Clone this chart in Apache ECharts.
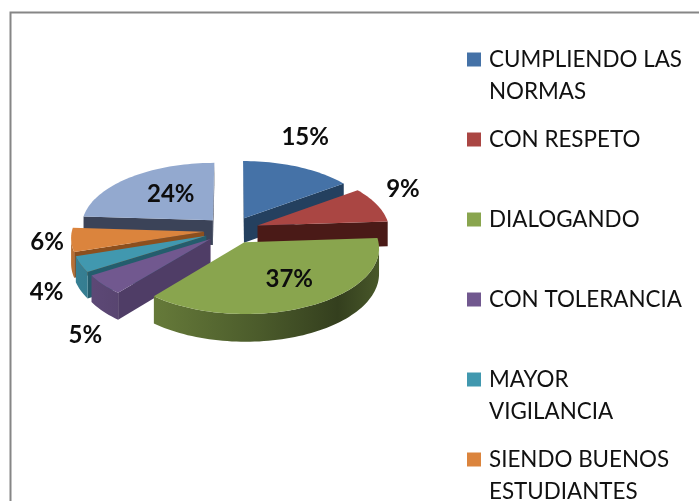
<!DOCTYPE html>
<html>
<head>
<meta charset="utf-8">
<style>
html, body { margin: 0; padding: 0; background: #fff; }
#box { width: 699px; height: 501px; }
</style>
</head>
<body>
<div id="box"></div>
<script src="https://cdn.jsdelivr.net/npm/echarts@6/dist/echarts.min.js"></script>
<script>
// legend text; the 7th entry is cut off in the picture
const categories = ['CUMPLIENDO LAS\nNORMAS', 'CON RESPETO', 'DIALOGANDO', 'CON TOLERANCIA', 'MAYOR\nVIGILANCIA', 'SIENDO BUENOS\nESTUDIANTES'];
const percents = [15, 9, 37, 5, 4, 6, 24];
const colors = ['#4572a7', '#aa4643', '#89a54e', '#71588f', '#4198af', '#db843d', '#93a9cf'];
const sideColors = ['#24405f', '#4a1a17', '#76923c', '#4f3d66', '#245d6d', '#8c4f1e', '#3b4358'];
// label offset from the middle of each slice's rim
const labelOffsets = [[7, -30], [26, -15], [-22, -26.5], [-18, 51], [-34, 28], [-24, 2], [41, 17]];

const FONT = 'Lato, "Open Sans", sans-serif';
// tilted pie projection
const CX = 231.6, CY = 230, RX = 132, RY = 63.8, PERSP = 0.083, EXPLODE = 0.21, DEPTH = 25;

function project(px, py, down) {
  const s = 1 / (1 + PERSP * py);
  return [CX + RX * px * s, CY - RY * py * s + (down ? DEPTH * s : 0)];
}

function shade(hex, f) {
  const n = parseInt(hex.slice(1), 16);
  const c = [n >> 16, (n >> 8) & 255, n & 255].map(v => Math.round(v * f));
  return 'rgb(' + c.join(',') + ')';
}

function wall(topPts, botPts, fill) {
  return { type: 'polygon', shape: { points: topPts.concat(botPts.slice().reverse()) }, style: { fill: fill } };
}

function renderSlice(index) {
  return function (params, api) {
    const value = api.value(0);
    const start = api.value(1) / 100 * Math.PI * 2;
    const end = start + value / 100 * Math.PI * 2;
    const mid = (start + end) / 2;
    const ox = EXPLODE * Math.sin(mid), oy = EXPLODE * Math.cos(mid);
    const steps = Math.max(8, Math.round(value * 2));
    const arc = [], arcLow = [];
    for (let i = 0; i <= steps; i++) {
      const t = start + (end - start) * i / steps;
      arc.push(project(ox + Math.sin(t), oy + Math.cos(t)));
      arcLow.push(project(ox + Math.sin(t), oy + Math.cos(t), true));
    }
    const apex = project(ox, oy), apexLow = project(ox, oy, true);
    const children = [];

    // straight faces, only when they turn towards the viewer
    if (arc[0][0] < apex[0]) children.push(wall([apex, arc[0]], [apexLow, arcLow[0]], sideColors[index]));
    if (apex[0] < arc[steps][0]) children.push(wall([arc[steps], apex], [arcLow[steps], apexLow], sideColors[index]));

    // rim, shaded from left to right
    const rimTop = [], rimLow = [];
    for (let i = 0; i <= steps; i++) {
      const goesLeft = (i < steps && arc[i + 1][0] < arc[i][0]) || (i > 0 && arc[i][0] < arc[i - 1][0]);
      if (goesLeft) { rimTop.push(arc[i]); rimLow.push(arcLow[i]); }
    }
    if (rimTop.length > 1) {
      const base = colors[index];
      children.push(wall(rimTop, rimLow, new echarts.graphic.LinearGradient(70, 0, 385, 0, [
        { offset: 0, color: shade(base, 0.85) },
        { offset: 0.3, color: shade(base, 0.72) },
        { offset: 0.6, color: shade(base, 0.55) },
        { offset: 0.85, color: shade(base, 0.38) },
        { offset: 1, color: shade(base, 0.55) }
      ], true)));
    }

    children.push({ type: 'polygon', shape: { points: [apex].concat(arc) }, style: { fill: colors[index] } });

    const rim = project(ox + Math.sin(mid), oy + Math.cos(mid));
    children.push({
      type: 'text',
      z2: 100,
      style: {
        x: rim[0] + labelOffsets[index][0],
        y: rim[1] + labelOffsets[index][1],
        text: value + '%',
        font: 'bold 24px ' + FONT,
        fill: '#0d0d0d',
        align: 'center',
        verticalAlign: 'middle'
      }
    });
    return { type: 'group', children: children };
  };
}

// back slices first
const apexDepth = [];
let sum = 0;
const startAt = percents.map(p => { const s = sum; sum += p; return s; });
percents.forEach((p, i) => { apexDepth[i] = Math.cos((startAt[i] + p / 2) / 100 * Math.PI * 2); });
const order = percents.map((p, i) => i).sort((a, b) => apexDepth[b] - apexDepth[a]);

const series = percents.map((p, i) => ({
  type: 'custom',
  coordinateSystem: 'none',
  name: categories[i] || 'otros',
  z: 2 + order.indexOf(i),
  silent: true,
  animation: false,
  itemStyle: { color: colors[i] },
  data: [[p, startAt[i]]],
  renderItem: renderSlice(i)
}));

const legends = categories.map((c, i) => ({
  data: [{ name: c, icon: 'rect', itemStyle: { color: colors[i] } }],
  left: 467,
  top: 48.5 + i * 80,
  padding: 0,
  itemWidth: 14,
  itemHeight: 14,
  itemGap: 0,
  selectedMode: false,
  formatter: n => n.split('\n')[0],
  textStyle: { fontFamily: FONT, fontSize: 22.4, color: '#111', padding: [0, 0, 0, 3] }
}));

const secondLines = [];
categories.forEach((c, i) => {
  const line = c.split('\n')[1];
  if (line) {
    secondLines.push({
      type: 'text',
      left: 489,
      top: 81 + i * 80,
      z: 50,
      style: { text: line, font: '22.4px ' + FONT, fill: '#111' }
    });
  }
});

const chart = echarts.init(document.getElementById('box'), null, { renderer: 'canvas' });
chart.setOption({
  animation: false,
  backgroundColor: '#fff',
  legend: legends,
  series: series,
  graphic: [{
    type: 'rect',
    left: 8,
    top: 10,
    z: 0,
    shape: { width: 760, height: 560 },
    style: { fill: 'none', stroke: '#868686', lineWidth: 2 }
  }].concat(secondLines)
});
</script>
</body>
</html>
